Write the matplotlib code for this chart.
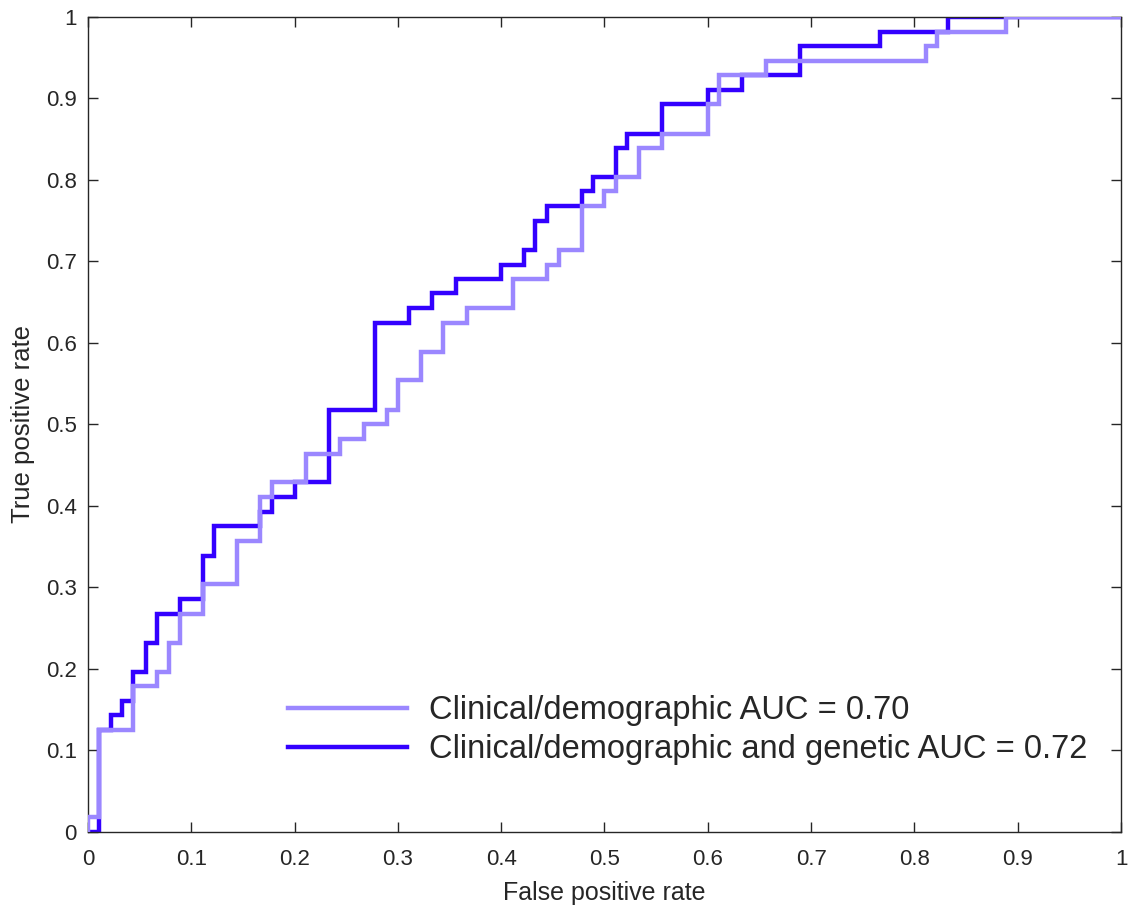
import matplotlib.pyplot as plt

plt.rcParams['font.family'] = ['Liberation Sans', 'DejaVu Sans']

# ROC corner points (post-step): clinical/demographic model
fpr_clin = [0, 0, 0.011, 0.044, 0.067, 0.078, 0.089, 0.111, 0.144, 0.167,
            0.178, 0.211, 0.244, 0.267, 0.289, 0.300, 0.322, 0.344, 0.367, 0.411,
            0.444, 0.456, 0.478, 0.500, 0.511, 0.533, 0.556, 0.600, 0.611, 0.656,
            0.811, 0.822, 0.889, 1.0]
tpr_clin = [0, 0.018, 0.125, 0.179, 0.196, 0.232, 0.268, 0.304, 0.357, 0.411,
            0.429, 0.464, 0.482, 0.500, 0.518, 0.554, 0.589, 0.625, 0.643, 0.679,
            0.696, 0.714, 0.768, 0.786, 0.804, 0.839, 0.857, 0.893, 0.929, 0.946,
            0.964, 0.982, 1.0, 1.0]

# clinical/demographic + genetic model
fpr_gen = [0, 0.011, 0.022, 0.033, 0.044, 0.056, 0.067, 0.089, 0.111, 0.122,
           0.167, 0.178, 0.200, 0.233, 0.278, 0.311, 0.333, 0.356, 0.400, 0.422,
           0.433, 0.444, 0.478, 0.489, 0.511, 0.522, 0.556, 0.600, 0.633, 0.689,
           0.767, 0.833, 1.0]
tpr_gen = [0, 0.125, 0.143, 0.161, 0.196, 0.232, 0.268, 0.286, 0.339, 0.375,
           0.393, 0.411, 0.429, 0.518, 0.625, 0.643, 0.661, 0.679, 0.696, 0.714,
           0.750, 0.768, 0.786, 0.804, 0.839, 0.857, 0.893, 0.911, 0.929, 0.964,
           0.982, 1.0, 1.0]

auc_clin = 0.70
auc_gen = 0.72

fig = plt.figure(figsize=(11.28, 9.08), dpi=100)
ax = fig.add_axes([0.078, 0.0837, 0.9158, 0.8976])

l_gen, = ax.step(fpr_gen, tpr_gen, where='post', color='#3300ff', lw=3.2,
                 zorder=2, solid_joinstyle='miter')
l_clin, = ax.step(fpr_clin, tpr_clin, where='post', color='#9b87ff', lw=3.2,
                  zorder=3, solid_joinstyle='miter')

ax.set_xlim(0, 1)
ax.set_ylim(0, 1)
ticks = [0, 0.1, 0.2, 0.3, 0.4, 0.5, 0.6, 0.7, 0.8, 0.9, 1]
labels = ['0', '0.1', '0.2', '0.3', '0.4', '0.5', '0.6', '0.7', '0.8', '0.9', '1']
ax.set_xticks(ticks, labels)
ax.set_yticks(ticks, labels)
ax.tick_params(direction='in', length=7, width=1, colors='#262626',
               top=True, right=True, labelsize=16)
ax.tick_params(axis='x', pad=12.5)
ax.tick_params(axis='y', pad=8)
for s in ax.spines.values():
    s.set_color('#262626')
    s.set_linewidth(1)

ax.set_xlabel('False positive rate', fontsize=18, color='#262626', labelpad=8)
ax.set_ylabel('True positive rate', fontsize=18.5, color='#262626', labelpad=8)

ax.legend([l_clin, l_gen],
          ['Clinical/demographic AUC = %.2f' % auc_clin,
           'Clinical/demographic and genetic AUC = %.2f' % auc_gen],
          loc='lower left', bbox_to_anchor=(0.1936, 0.082), frameon=False,
          fontsize=23.5, handlelength=3.65, handletextpad=0.67, borderpad=0,
          borderaxespad=0, labelspacing=0.24, labelcolor='#262626')

fig.savefig('out.png', dpi=100)
